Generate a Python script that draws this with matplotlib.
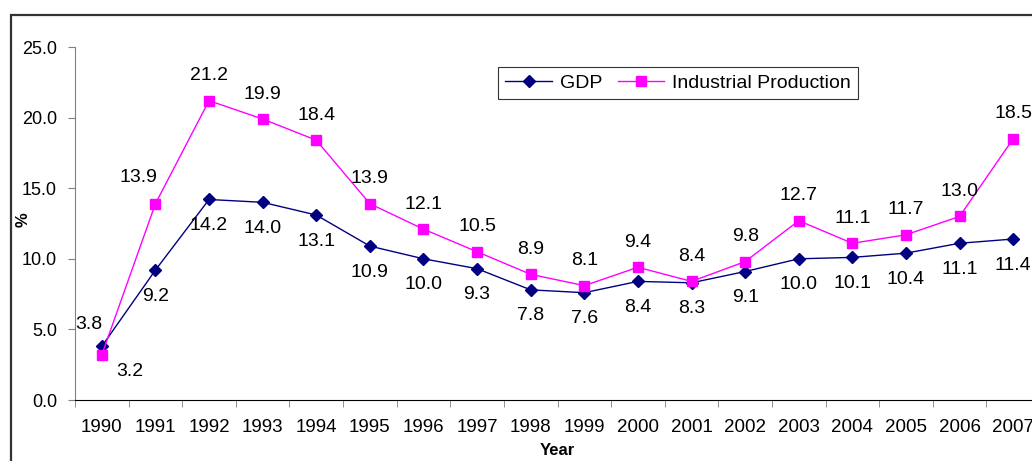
import matplotlib
matplotlib.use("Agg")
import matplotlib.pyplot as plt
from matplotlib.patches import Rectangle

years = [str(y) for y in range(1990, 2008)]
gdp = [3.8, 9.2, 14.2, 14.0, 13.1, 10.9, 10.0, 9.3, 7.8, 7.6, 8.4, 8.3, 9.1, 10.0, 10.1, 10.4, 11.1, 11.4]
ind = [3.2, 13.9, 21.2, 19.9, 18.4, 13.9, 12.1, 10.5, 8.9, 8.1, 9.4, 8.4, 9.8, 12.7, 11.1, 11.7, 13.0, 18.5]

plt.rcParams['font.family'] = ['Liberation Sans', 'DejaVu Sans']

W, H = 1032, 461
fig = plt.figure(figsize=(W / 100, H / 100), dpi=100)
ax = fig.add_axes([75 / W, 1 - 400 / H, (1040 - 75) / W, (400 - 47) / H])

x = list(range(len(years)))
ax.plot(x, gdp, color='#000080', marker='D', markersize=6, linewidth=1, label='GDP')
ax.plot(x, ind, color='#FF00FF', marker='s', markersize=6.5, linewidth=1, label='Industrial Production')

LBL = 14
for i, v in enumerate(gdp):
    dx, dy = 0, -26
    if i == 0:
        dx, dy = -13, 22
    ax.annotate(f"{v:.1f}", (i, v), textcoords='offset pixels', xytext=(dx, dy),
                ha='center', va='center', fontsize=LBL)
for i, v in enumerate(ind):
    dx, dy = 0, 25
    if i == 0:
        dx, dy = 28, -17
    elif i == 1:
        dx, dy = -17, 26
    ax.annotate(f"{v:.1f}", (i, v), textcoords='offset pixels', xytext=(dx, dy),
                ha='center', va='center', fontsize=LBL)

ax.set_xlim(-0.5, len(years) - 0.5)
ax.set_ylim(0, 25)
ax.set_yticks([0, 5, 10, 15, 20, 25])
ax.set_yticklabels([f"{t:.1f}" for t in [0, 5, 10, 15, 20, 25]], fontsize=13)
ax.set_xticks(x)
ax.set_xticklabels(years, fontsize=13.5)
ax.set_xticks([i + 0.5 for i in range(-1, len(years))], minor=True)
ax.tick_params(axis='x', which='major', length=0, pad=14)
ax.tick_params(axis='x', which='minor', length=5, color='#808080', direction='out')
ax.tick_params(axis='y', length=5, color='#808080', direction='out', pad=8)

ax.spines['top'].set_visible(False)
ax.spines['right'].set_visible(False)
ax.spines['left'].set_color('#808080')
ax.spines['bottom'].set_color('black')

ax.set_xlabel('Year', fontweight='bold', fontsize=12, labelpad=5)
fig.text(23 / W, 1 - 220 / H, '%', rotation=90, fontweight='bold', fontsize=12,
         ha='center', va='center')

leg = ax.legend(loc='center', bbox_to_anchor=(678 / W, 1 - 83 / H), bbox_transform=fig.transFigure,
                ncol=2, frameon=True, fancybox=False, edgecolor='black', fontsize=14,
                handlelength=2.4, columnspacing=0.8, handletextpad=0.4, borderpad=0.35)
leg.get_frame().set_linewidth(0.8)

fig.patches.append(Rectangle((10.5 / W, -0.2), 1.5, 1.2 - 15 / H, transform=fig.transFigure,
                             fill=False, edgecolor='#333333', linewidth=1.6))

fig.savefig('out.png', dpi=100)
